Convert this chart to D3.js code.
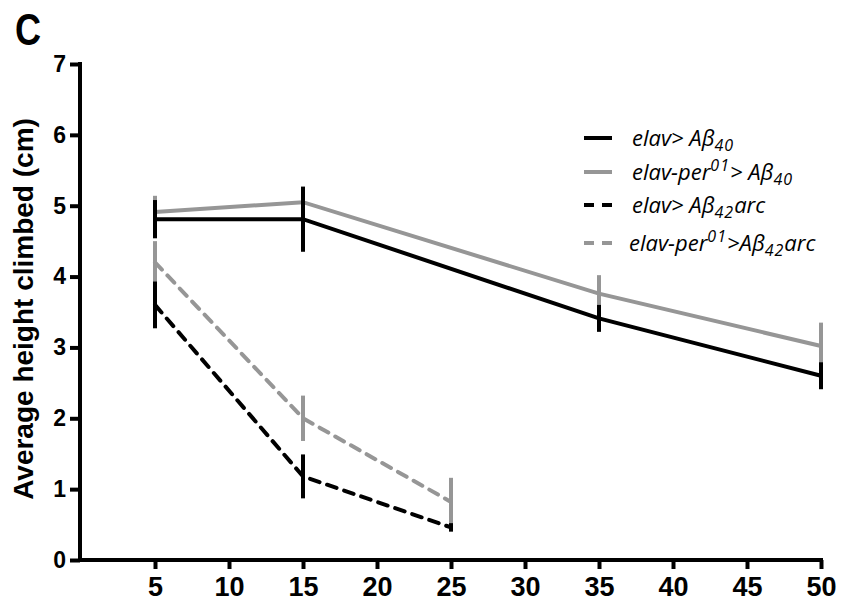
<!DOCTYPE html>
<html lang="en">
<head>
<meta charset="UTF-8">
<title>Average height climbed</title>
<script src="https://cdn.jsdelivr.net/npm/d3@7"></script>
<style>
    body { margin: 0; background: #fff; }
</style>
</head>
<body>
<script>
    var w = 845, h = 602;

    // days on x, mean +/- error for each genotype
    var days40 = [5, 15, 35, 50];
    var days42 = [5, 15, 25];
    var elav40 = [4.81, 4.81, 3.41, 2.60];
    var elav40Err = [0.27, 0.46, 0.19, 0.19];
    var per40 = [4.91, 5.05, 3.76, 3.02];
    var per40Err = [0.23, 0.20, 0.26, 0.33];
    var elav42 = [3.60, 1.18, 0.46];
    var elav42Err = [0.33, 0.31, 0.06];
    var per42 = [4.20, 2.00, 0.82];
    var per42Err = [0.30, 0.32, 0.34];

    var xTicks = [5, 10, 15, 20, 25, 30, 35, 40, 45, 50];
    var yTicks = [0, 1, 2, 3, 4, 5, 6, 7];

    var black = "#000";
    var grey = "#969696";

    function rows(x, y, e) {
        return x.map(function (d, i) { return {x: d, y: y[i], e: e[i]}; });
    }

    // draw order matters: grey first, black over it
    var series = [
        {rows: rows(days40, per40, per40Err), color: grey, dash: null},
        {rows: rows(days42, per42, per42Err), color: grey, dash: "10,8"},
        {rows: rows(days40, elav40, elav40Err), color: black, dash: null},
        {rows: rows(days42, elav42, elav42Err), color: black, dash: "10,8"}
    ];

    var svg = d3.select("body").append("svg")
        .attr("width", w)
        .attr("height", h);

    var x = d3.scaleLinear().domain([0, 50]).range([81, 821]);
    var y = d3.scaleLinear().domain([0, 7]).range([560, 64]);

    // axes
    var xAxis = svg.append("g")
        .attr("transform", "translate(0,560)")
        .call(d3.axisBottom(x).tickValues(xTicks).tickSize(9).tickSizeOuter(0).tickPadding(8));
    xAxis.select(".domain").attr("stroke-width", 4).attr("d", "M78,0H823");
    xAxis.selectAll(".tick line").attr("stroke-width", 4);
    xAxis.selectAll(".tick text")
        .attr("font-family", "'Liberation Sans Narrow', 'Arial Narrow', 'Liberation Sans', sans-serif")
        .attr("font-weight", "bold")
        .attr("font-size", "27px")
        .attr("fill", "#000");

    var yAxis = svg.append("g")
        .attr("transform", "translate(80,0)")
        .call(d3.axisLeft(y).tickValues(yTicks).tickFormat(d3.format("d"))
            .tickSize(10).tickSizeOuter(0).tickPadding(4));
    yAxis.select(".domain").attr("stroke-width", 4).attr("d", "M0,62V562");
    yAxis.selectAll(".tick line").attr("stroke-width", 4);
    yAxis.selectAll(".tick text")
        .attr("font-family", "'Liberation Sans', Arial, sans-serif")
        .attr("font-weight", "bold")
        .attr("font-size", "23px")
        .attr("fill", "#000");

    svg.append("text")
        .attr("transform", "translate(33,309) rotate(-90)")
        .attr("text-anchor", "middle")
        .attr("font-family", "'Liberation Sans', Arial, sans-serif")
        .attr("font-weight", "bold")
        .attr("font-size", "28px")
        .text("Average height climbed (cm)");

    svg.append("text")
        .attr("transform", "translate(15,45) scale(0.82,1)")
        .attr("font-family", "'Liberation Sans', Arial, sans-serif")
        .attr("font-weight", "bold")
        .attr("font-size", "44px")
        .text("C");

    // lines and error bars
    var line = d3.line()
        .x(function (d) { return x(d.x); })
        .y(function (d) { return y(d.y); });

    series.forEach(function (s) {
        svg.append("path")
            .datum(s.rows)
            .attr("d", line)
            .attr("fill", "none")
            .attr("stroke", s.color)
            .attr("stroke-width", 4)
            .attr("stroke-dasharray", s.dash)
            .attr("stroke-linecap", s.dash ? "round" : "butt");

        svg.append("g").selectAll("line")
            .data(s.rows).enter()
            .append("line")
            .attr("x1", function (d) { return x(d.x); })
            .attr("x2", function (d) { return x(d.x); })
            .attr("y1", function (d) { return y(d.y + d.e); })
            .attr("y2", function (d) { return y(d.y - d.e); })
            .attr("stroke", s.color)
            .attr("stroke-width", 4);
    });

    // legend
    var legend = [
        {color: black, dash: null, ly: 138, tx: 632, parts: [["elav> A", 0], ["β", 0], ["40", 1]]},
        {color: grey, dash: null, ly: 172, tx: 632, parts: [["elav-per", 0], ["01", -1], ["> A", 0], ["β", 0], ["40", 1]]},
        {color: black, dash: "10,8", ly: 205, tx: 632, parts: [["elav> A", 0], ["β", 0], ["42", 1], ["arc", 0]]},
        {color: grey, dash: "10,8", ly: 243, tx: 629, parts: [["elav-per", 0], ["01", -1], [">A", 0], ["β", 0], ["42", 1], ["arc", 0]]}
    ];

    legend.forEach(function (l) {
        svg.append("line")
            .attr("x1", 584).attr("x2", 612)
            .attr("y1", l.ly).attr("y2", l.ly)
            .attr("stroke", l.color)
            .attr("stroke-width", 4)
            .attr("stroke-dasharray", l.dash);

        var t = svg.append("text")
            .attr("x", l.tx)
            .attr("y", l.ly + 8)
            .attr("font-family", "'Open Sans', sans-serif")
            .attr("font-style", "italic")
            .attr("font-size", "22px")
            .attr("fill", "#000");

        var shift = 0;
        l.parts.forEach(function (p) {
            var off = p[1] === 1 ? 5 : (p[1] === -1 ? -9 : 0);
            t.append("tspan")
                .attr("dy", off - shift)
                .attr("font-size", p[1] === 0 ? "22px" : "16px")
                .attr("letter-spacing", p[1] === 0 ? null : "1px")
                .text(p[0]);
            shift = off;
        });
    });
</script>
</body>
</html>
